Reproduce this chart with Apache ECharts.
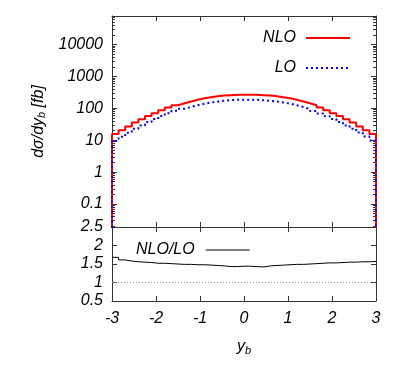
<!DOCTYPE html>
<html>
<head>
<meta charset="utf-8">
<script src="https://cdn.jsdelivr.net/npm/echarts@6/dist/echarts.min.js"></script>
<style>
  html, body { margin: 0; padding: 0; background: #fff; }
  #chart { width: 407px; height: 370px; }
</style>
</head>
<body>
<div id="chart"></div>
<script>
// histogram bins: 40 bins of width 0.15 from -3 to 3
const xMin = -3
const xMax = 3
const binWidth = 0.15
const xTicks = [-3, -2, -1, 0, 1, 2, 3]

// dσ/dy_b [fb], one value per bin
const nloValues = [15.5, 20.5, 27, 36, 45, 57, 70, 86, 105, 124,
  143, 163, 185, 205, 222, 237, 250, 258, 264, 267,
  267, 264, 258, 250, 237, 222, 205, 185, 163, 143,
  124, 105, 86, 70, 57, 45, 36, 27, 20.5, 15.5]
const loValues = [9.5, 12.8, 17.2, 23, 29, 37, 46, 57, 70, 83,
  96, 110, 125, 139, 151, 162, 172, 180, 184, 186,
  186, 185, 178, 171, 162, 151, 139, 124, 109, 95,
  82, 69, 56, 46, 37, 29, 23, 17.4, 13, 9.8]
// NLO/LO ratio per bin
const ratioValues = [1.68, 1.61, 1.58, 1.56, 1.55, 1.54, 1.52, 1.52, 1.51, 1.50,
  1.49, 1.49, 1.48, 1.48, 1.47, 1.46, 1.45, 1.43, 1.43, 1.44,
  1.44, 1.43, 1.42, 1.45, 1.46, 1.47, 1.48, 1.49, 1.49, 1.50,
  1.51, 1.52, 1.53, 1.53, 1.54, 1.55, 1.55, 1.56, 1.56, 1.57]
const ratioTicks = [0.5, 1, 1.5, 2, 2.5]

// 直方图阶梯数据（左边沿 + 最后一个右边沿）
const stepData = (vals, floor) => {
  const d = []
  if (floor !== undefined) d.push([xMin, floor])
  vals.forEach((v, i) => d.push([xMin + i * binWidth, v]))
  d.push([xMax, vals[vals.length - 1]])
  if (floor !== undefined) d.push([xMax, floor])
  return d
}

const font = 'Liberation Sans, Arial, sans-serif'
const frame = '#333'
const labelStyle = { fontFamily: font, fontStyle: 'italic', fontSize: 16, color: '#000' }

const tickIn = (len) => ({ show: true, inside: true, length: len, lineStyle: { color: frame, width: 1 } })
const lineOn = { show: true, onZero: false, lineStyle: { color: frame, width: 1 } }

const xAxisBase = (grid, pos, showLabel) => ({
  type: 'value', gridIndex: grid, position: pos,
  min: xMin, max: xMax, interval: 1,
  axisLine: lineOn, axisTick: tickIn(5), splitLine: { show: false },
  axisLabel: showLabel ? { ...labelStyle, margin: 10 } : { show: false }
})

const logAxis = (pos, showLabel) => ({
  type: 'log', gridIndex: 0, position: pos, logBase: 10,
  min: 0.019, max: 78000, splitNumber: 7,
  axisLine: lineOn, axisTick: tickIn(5), splitLine: { show: false },
  minorTick: { show: true, splitNumber: 9, length: 3, lineStyle: { color: frame, width: 1 } },
  axisLabel: showLabel
    ? { ...labelStyle, margin: 9, showMinLabel: false, showMaxLabel: false, formatter: (v) => String(v) }
    : { show: false }
})

const ratioAxis = (pos, showLabel) => ({
  type: 'value', gridIndex: 1, position: pos,
  min: ratioTicks[0], max: ratioTicks[ratioTicks.length - 1], interval: 0.5,
  axisLine: lineOn, axisTick: tickIn(5), splitLine: { show: false },
  axisLabel: showLabel ? { ...labelStyle, margin: 9 } : { show: false }
})

const chart = echarts.init(document.getElementById('chart'))
chart.setOption({
  animation: false,
  backgroundColor: '#fff',
  grid: [
    { left: 112, right: 31, top: 16, height: 211 },
    { left: 112, right: 31, top: 227, height: 74 }
  ],
  legend: [
    {
      data: ['NLO', 'LO'], orient: 'vertical', align: 'right',
      right: 51, top: 25, itemWidth: 44, itemHeight: 14, itemGap: 14,
      itemStyle: { opacity: 0 },
      textStyle: { ...labelStyle, padding: [0, 5, 0, 0] }
    },
    {
      data: ['NLO/LO'], orient: 'vertical', align: 'right',
      left: 131, top: 237, itemWidth: 44, itemHeight: 14,
      itemStyle: { opacity: 0 },
      lineStyle: { width: 1 },
      textStyle: { ...labelStyle, padding: [0, 6, 0, 0] }
    }
  ],
  xAxis: [
    xAxisBase(0, 'bottom', false),
    xAxisBase(0, 'top', false),
    {
      ...xAxisBase(1, 'bottom', true),
      name: '{i|y}{s|b}', nameLocation: 'middle', nameGap: 36,
      nameTextStyle: {
        rich: {
          i: { ...labelStyle },
          s: { ...labelStyle, fontSize: 11, verticalAlign: 'bottom', padding: [8, 0, 0, 0] }
        }
      }
    },
    xAxisBase(1, 'top', false)
  ],
  yAxis: [
    {
      ...logAxis('left', true),
      name: '{i|dσ/dy}{s|b}{i| [fb]}', nameLocation: 'middle', nameGap: 60,
      nameTextStyle: {
        rich: {
          i: { ...labelStyle },
          s: { ...labelStyle, fontSize: 11, verticalAlign: 'bottom', padding: [8, 0, 0, 0] }
        }
      }
    },
    logAxis('right', false),
    ratioAxis('left', true),
    ratioAxis('right', false)
  ],
  series: [
    {
      name: 'NLO', type: 'line', step: 'end', xAxisIndex: 0, yAxisIndex: 0,
      data: stepData(nloValues, 0.001), showSymbol: false, symbol: 'none',
      lineStyle: { color: '#ff0000', width: 2 }, itemStyle: { color: '#ff0000' }
    },
    {
      name: 'LO', type: 'line', step: 'end', xAxisIndex: 0, yAxisIndex: 0,
      data: stepData(loValues, 0.001), showSymbol: false, symbol: 'none',
      lineStyle: { color: '#0000ff', width: 2, type: [2, 3] }, itemStyle: { color: '#0000ff' }
    },
    {
      name: 'NLO/LO', type: 'line', step: 'end', xAxisIndex: 2, yAxisIndex: 2,
      data: stepData(ratioValues), showSymbol: false, symbol: 'none',
      lineStyle: { color: '#000', width: 1 }, itemStyle: { color: '#000' },
      markLine: {
        silent: true, symbol: 'none', label: { show: false },
        lineStyle: { color: '#999', width: 1, type: [1, 2] },
        data: [{ yAxis: 1 }]
      }
    }
  ]
})
</script>
</body>
</html>
